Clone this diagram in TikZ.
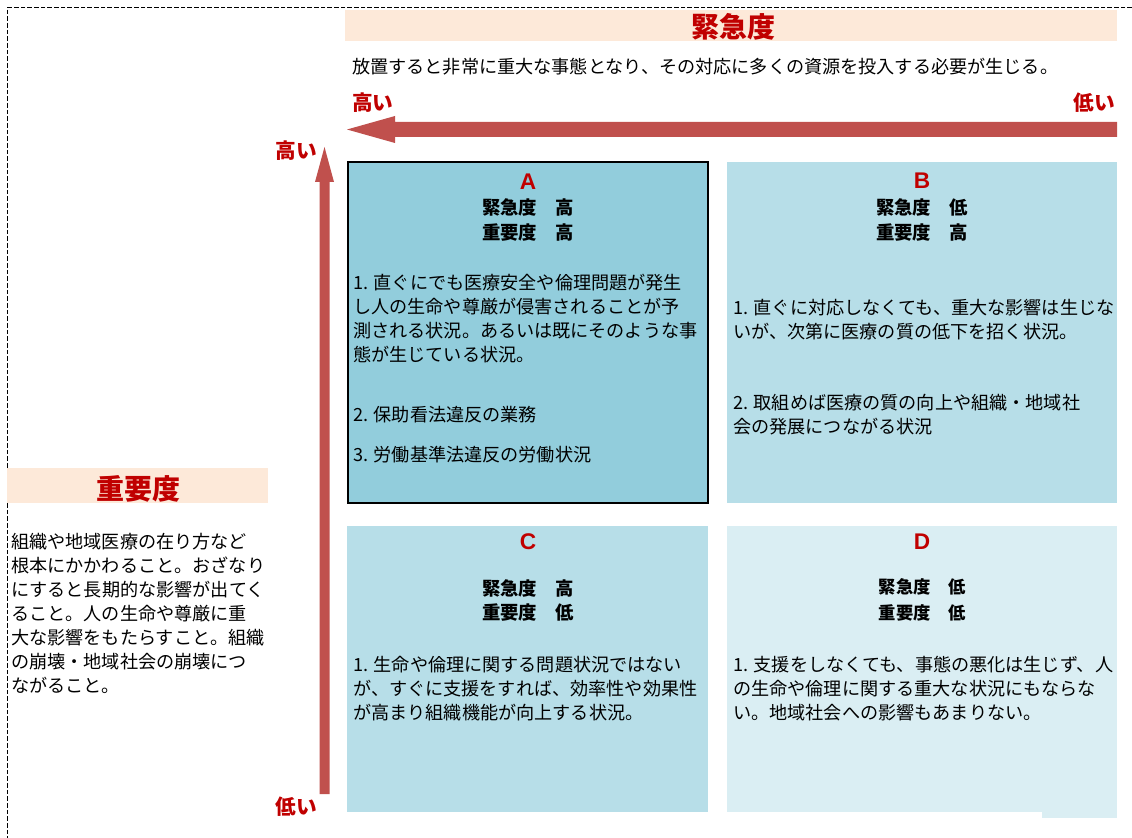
\documentclass[tikz,border=0pt]{standalone}
\usepackage{fontspec}
\setmainfont{Noto Sans CJK JP}
\newfontfamily\latinfont{Liberation Sans}
\definecolor{peach}{HTML}{FDE9D9}
\definecolor{darkred}{HTML}{C00000}
\definecolor{arrowred}{HTML}{C0504D}
\definecolor{qa}{HTML}{92CDDC}
\definecolor{qb}{HTML}{B7DEE8}
\definecolor{qd}{HTML}{DAEEF3}
\begin{document}
\begin{tikzpicture}[x=0.75pt,y=-0.75pt,
  band/.style={fill=peach,draw=none,inner sep=0},
  titletext/.style={font=\fontsize{21}{25}\selectfont\bfseries,text=darkred,inner sep=0},
  lvl/.style={font=\fontsize{15.5}{19}\selectfont\bfseries,text=darkred,inner sep=0},
  letter/.style={font=\latinfont\fontsize{17}{20}\selectfont\bfseries,text=darkred,inner sep=0},
  headtext/.style={font=\fontsize{13.8}{18}\selectfont\bfseries,inner sep=0},
  body/.style={font=\fontsize{13.6}{18}\selectfont,align=left,inner sep=0,anchor=north west},
  quad/.style={draw=none,inner sep=0},
]
\useasboundingbox (0,0) rectangle (1132,838);
\fill[white] (0,0) rectangle (1132,838);
% dashed frame
\draw[line width=0.75pt,dash pattern=on 3.5pt off 1.5pt] (1132,8) -- (7,8) -- (7,838);

% urgency header
\node[band,minimum width=579pt,minimum height=23.25pt] (uband) at (731,25.5) {};
\node[titletext] (utitle) at (733,27) {緊急度};
\node[font=\fontsize{13.6}{18}\selectfont,inner sep=0,anchor=west] (udesc) at (352,67) {放置すると非常に重大な事態となり、その対応に多くの資源を投入する必要が生じる。};
\node[lvl,anchor=west] (uhigh) at (352,103) {高い};
\node[lvl,anchor=east] (ulow) at (1115,103) {低い};

% horizontal arrow
\coordinate (htip) at (347,129.5);
\coordinate (hend) at (1117,129.5);
\fill[arrowred] (htip) -- (395,116) -- (395,122) -- (hend |- 0,122) -- (hend |- 0,137) -- (395,137) -- (395,143) -- cycle;

% importance header
\node[band,minimum width=195.75pt,minimum height=26.25pt] (iband) at (137.5,485.5) {};
\node[titletext] (ititle) at (138,489) {重要度};
\node[body] (idesc) at (11,533) {組織や地域医療の在り方など\\根本にかかわること。おざなり\\にすると長期的な影響が出てく\\ること。人の生命や尊厳に重\\大な影響をもたらすこと。組織\\の崩壊・地域社会の崩壊につ\\ながること。};
\node[lvl] (vhigh) at (296,151) {高い};
\node[lvl] (vlow) at (296,807) {低い};

% vertical arrow
\coordinate (vtip) at (324.5,147);
\coordinate (vend) at (324.5,794);
\fill[arrowred] (vtip) -- (334,182) -- (329.5,182) -- (329.5,794) -- (319.5,794) -- (319.5,182) -- (315,182) -- cycle;

% quadrant A
\node[quad,fill=qa,draw=black,line width=1.5pt,minimum width=270pt,minimum height=255pt] (A) at (527.5,332.5) {};
\node[letter] (Al) at (528,182) {A};
\node[headtext] (Ah1) at (528,207) {緊急度　高};
\node[headtext] (Ah2) at (528,233) {重要度　高};
\node[body] (Ab1) at (353,274) {1. 直ぐにでも医療安全や倫理問題が発生\\し人の生命や尊厳が侵害されることが予\\測される状況。あるいは既にそのような事\\態が生じている状況。};
\node[body] (Ab2) at (353,406) {2. 保助看法違反の業務};
\node[body] (Ab3) at (353,446) {3. 労働基準法違反の労働状況};

% quadrant B
\node[quad,fill=qb,minimum width=292.5pt,minimum height=255.75pt] (B) at (922,332.5) {};
\node[letter] (Bl) at (922,181) {B};
\node[headtext] (Bh1) at (922,207) {緊急度　低};
\node[headtext] (Bh2) at (922,233) {重要度　高};
\node[body] (Bb1) at (733,299) {1. 直ぐに対応しなくても、重大な影響は生じな\\いが、次第に医療の質の低下を招く状況。};
\node[body] (Bb2) at (733,394) {2. 取組めば医療の質の向上や組織・地域社\\会の発展につながる状況};

% quadrant C
\node[quad,fill=qb,minimum width=270.75pt,minimum height=214.5pt] (C) at (527.5,669) {};
\node[letter] (Cl) at (528,542) {C};
\node[headtext] (Ch1) at (528,588) {緊急度　高};
\node[headtext] (Ch2) at (528,613) {重要度　低};
\node[body] (Cb1) at (353,656) {1. 生命や倫理に関する問題状況ではない\\が、すぐに支援をすれば、効率性や効果性\\が高まり組織機能が向上する状況。};

% quadrant D
\node[quad,fill=qd,minimum width=292.5pt,minimum height=214.5pt] (D) at (922,669) {};
\fill[qd] (1042,811) rectangle (1117,818);
\node[letter] (Dl) at (922,542) {D};
\node[headtext,font=\fontsize{13}{17}\selectfont\bfseries] (Dh1) at (922,587) {緊急度　低};
\node[headtext,font=\fontsize{13}{17}\selectfont\bfseries] (Dh2) at (922,613) {重要度　低};
\node[body] (Db1) at (733,656) {1. 支援をしなくても、事態の悪化は生じず、人\\の生命や倫理に関する重大な状況にもならな\\い。地域社会への影響もあまりない。};
\end{tikzpicture}
\end{document}
